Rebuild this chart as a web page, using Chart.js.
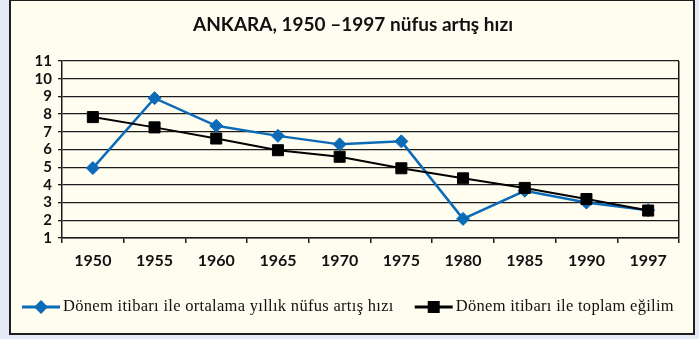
<!DOCTYPE html>
<html>
<head>
<meta charset="utf-8">
<script src="https://cdn.jsdelivr.net/npm/chart.js@4/dist/chart.umd.min.js"></script>
<style>
  html, body { margin: 0; padding: 0; }
  body { width: 699px; height: 339px; background: #e4eaf6; position: relative; overflow: hidden; }
  #frame {
    position: absolute; left: 9px; top: -1px;
    width: 682px; height: 332px;
    border: 2px solid #1e1e1e;
    background: #fffdf0;
  }
  #chart { display: block; }
</style>
</head>
<body>
<div id="frame"><canvas id="chart" width="682" height="332"></canvas></div>
<script>
// Ankara population growth, 1950–1997
const TITLE = 'ANKARA, 1950 \u20131997 nüfus artış hızı';
const years = ['1950', '1955', '1960', '1965', '1970', '1975', '1980', '1985', '1990', '1997'];
const averageRate = [4.95, 8.9, 7.34, 6.77, 6.29, 6.46, 2.08, 3.67, 3.0, 2.57];
const overallTrend = [7.83, 7.25, 6.62, 5.96, 5.59, 4.94, 4.37, 3.83, 3.2, 2.55];
const yTicks = { min: 1, max: 11, step: 1 };
const seriesNames = [
  'Dönem itibarı ile ortalama yıllık nüfus artış hızı',
  'Dönem itibarı ile toplam eğilim'
];

const BLUE = '#0b6bb6';
const INK = '#1c1c1c';
const SANS = 'Lato, "Open Sans", sans-serif';
const SERIF = '"Liberation Serif", "DejaVu Serif", serif';
const LABEL_FONT = { family: SANS, size: 16, weight: 'bold' };
const YLABEL_FONT = { family: SANS, size: 15, weight: 'bold' };

// Title and legend are painted directly on the canvas so their placement can be set precisely
const textPlugin = {
  id: 'titleAndLegend',
  afterDraw(chart) {
    const ctx = chart.ctx;
    ctx.save();
    ctx.fillStyle = '#111';
    ctx.font = 'bold 19px ' + SANS;
    ctx.textAlign = 'center';
    ctx.textBaseline = 'middle';
    ctx.fillText(TITLE, 342, 24);

    ctx.font = '16.5px ' + SERIF;
    if ('letterSpacing' in ctx) ctx.letterSpacing = '0.3px';
    ctx.textAlign = 'left';
    const y = 306;
    let x = 11;
    chart.data.datasets.forEach((ds) => {
      const lineLen = 38;
      ctx.strokeStyle = ds.borderColor;
      ctx.lineWidth = 3;
      ctx.beginPath();
      ctx.moveTo(x, y);
      ctx.lineTo(x + lineLen, y);
      ctx.stroke();
      const cx = x + lineLen / 2;
      ctx.fillStyle = ds.pointBackgroundColor;
      ctx.beginPath();
      if (ds.pointStyle === 'rectRot') {
        const r = 7;
        ctx.moveTo(cx, y - r);
        ctx.lineTo(cx + r, y);
        ctx.lineTo(cx, y + r);
        ctx.lineTo(cx - r, y);
        ctx.closePath();
      } else {
        ctx.rect(cx - 6, y - 6, 12, 12);
      }
      ctx.fill();
      ctx.fillStyle = '#111';
      const tx = x + lineLen + 3;
      ctx.fillText(ds.label, tx, y);
      x = tx + ctx.measureText(ds.label).width + 21;
    });
    ctx.restore();
  }
};

function draw() {
  new Chart(document.getElementById('chart'), {
    type: 'line',
    data: {
      labels: years,
      datasets: [
        {
          label: seriesNames[0],
          data: averageRate,
          borderColor: BLUE,
          backgroundColor: BLUE,
          pointBackgroundColor: BLUE,
          pointBorderColor: BLUE,
          pointStyle: 'rectRot',
          pointRadius: 6.5,
          pointBorderWidth: 1,
          borderWidth: 2.5,
          tension: 0,
          order: 1
        },
        {
          label: seriesNames[1],
          data: overallTrend,
          borderColor: '#000',
          backgroundColor: '#000',
          pointBackgroundColor: '#000',
          pointBorderColor: '#000',
          pointStyle: 'rect',
          pointRadius: 7.8,
          pointBorderWidth: 1,
          borderWidth: 2,
          tension: 0,
          order: 0
        }
      ]
    },
    options: {
      responsive: false,
      animation: false,
      devicePixelRatio: 1,
      layout: { padding: { top: 60, right: 14, bottom: 59, left: 0 } },
      plugins: {
        legend: { display: false },
        title: { display: false },
        tooltip: { enabled: false }
      },
      scales: {
        x: {
          type: 'category',
          offset: true,
          afterFit(scale) { scale.height = 36; },
          grid: {
            offset: true,
            drawOnChartArea: true,
            color: (c) => (c.tick ? 'rgba(0,0,0,0)' : INK),
            tickColor: INK,
            tickLength: 5,
            lineWidth: 1.5
          },
          border: { display: true, color: INK, width: 1.5 },
          ticks: { color: '#111', font: LABEL_FONT, padding: 8, maxRotation: 0, autoSkip: false }
        },
        y: {
          min: yTicks.min,
          max: yTicks.max,
          afterFit(scale) { scale.width = 51; },
          grid: { color: INK, lineWidth: 1.3, tickLength: 4, drawTicks: true },
          border: { display: true, color: INK, width: 1.5 },
          ticks: { stepSize: yTicks.step, autoSkip: false, color: '#111', font: YLABEL_FONT, padding: 6 }
        }
      }
    },
    plugins: [textPlugin]
  });
}

const fontLoads = [
  'bold 19px Lato', 'bold 16px Lato', 'bold 15px Lato',
  '16.5px "Liberation Serif"'
].map((f) => document.fonts.load(f, TITLE + seriesNames.join('')).catch(() => null));
Promise.all(fontLoads).then(draw, draw);
</script>
</body>
</html>
